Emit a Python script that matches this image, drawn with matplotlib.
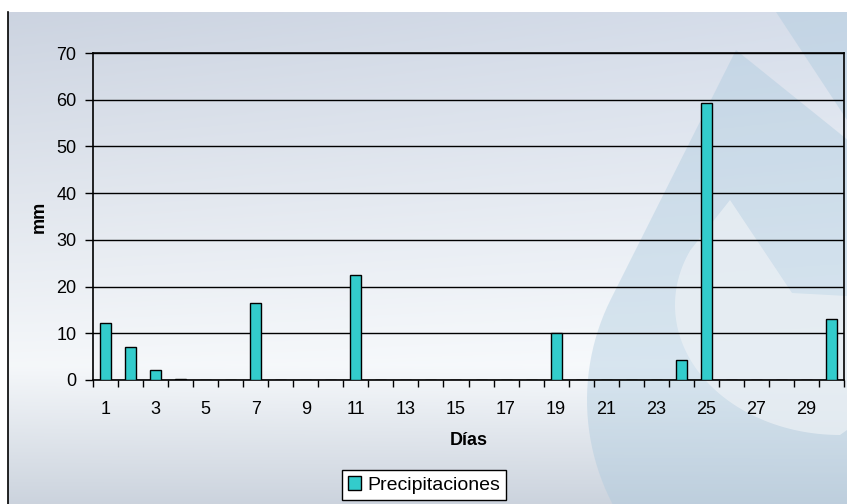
import matplotlib.pyplot as plt
import matplotlib.patches as mpatches
import numpy as np

# daily rainfall (mm), days 1..30
dias = list(range(1, 31))
precip = [12.3, 7.1, 2.1, 0.3, 0, 0, 16.4, 0, 0, 0,
          22.4, 0, 0, 0, 0, 0, 0, 0, 10.1, 0,
          0, 0, 0, 4.2, 59.4, 0, 0, 0, 0, 13.1]
y_ticks = [0, 10, 20, 30, 40, 50, 60, 70]

plt.rcParams['font.family'] = ['Liberation Sans', 'DejaVu Sans']

W, H = 847, 504
fig = plt.figure(figsize=(W / 100, H / 100), dpi=100)
fig.patch.set_facecolor('white')


def drop(apex, center, r, n=120):
    """Drop shape: apex point joined tangentially to a circle (pixel coords)."""
    ax_, ay_ = apex
    cx, cy = center
    dx, dy = ax_ - cx, ay_ - cy
    d = np.hypot(dx, dy)
    base = np.arctan2(dy, dx)
    half = np.arccos(r / d)
    t = np.linspace(base + half, base + 2 * np.pi - half, n)
    pts = np.column_stack([cx + r * np.cos(t), cy + r * np.sin(t)])
    return np.vstack([[apex], pts])


# background: gradient + watermark logo
bg = fig.add_axes([0, 0, 1, 1])
bg.set_xlim(0, W)
bg.set_ylim(H, 0)
bg.axis('off')
yy = np.linspace(0, 1, 200)
top = np.array([0.80, 0.83, 0.88])
mid = np.array([0.96, 0.97, 0.98])
bot = np.array([0.80, 0.83, 0.87])
col = np.where(yy[:, None] < 0.72,
               top + (mid - top) * (yy[:, None] / 0.72),
               mid + (bot - mid) * ((yy[:, None] - 0.72) / 0.28))
xx = np.linspace(0, 1, 300)
grad = col[:, None, :] * np.ones((1, 300, 1))
grad = np.clip(grad + 0.04 * xx[None, :, None] * (1 - yy[:, None, None]), 0, 1)
bg.imshow(grad, extent=[8, W, H, 12], aspect='auto', zorder=0)

wm = '#a9c8dd'
bg.add_patch(mpatches.Polygon(drop((736, 50), (812, 400), 225),
                              color=wm, alpha=0.4, lw=0, zorder=1))
bg.add_patch(mpatches.Polygon([(776, 12), (W, 12), (W, 120)],
                              color=wm, alpha=0.4, lw=0, zorder=1))
# inner lighter cut-out of the logo
t = np.radians(np.linspace(90, 205, 60))
arc = np.column_stack([840 + 165 * np.cos(t), 305 + 130 * np.sin(t)])
inner = np.vstack([[(730, 200), (792, 293), (W, 296), (W, 430)],
                   arc])
bg.add_patch(mpatches.Polygon(inner, color='#edf1f5', alpha=0.7,
                              lw=0, zorder=2))
bg.plot([8, 8], [12, H], color='black', lw=1.2, zorder=3)

# main chart
left, right, bottom_px, top_px = 93, 844, 380, 53
ax = fig.add_axes([left / W, (H - bottom_px) / H,
                   (right - left) / W, (bottom_px - top_px) / H])
ax.patch.set_alpha(0)

x = np.arange(len(dias))
ax.bar(x, precip, width=0.44, color='#33cccc', edgecolor='black',
       linewidth=1, zorder=3, label='Precipitaciones')

ax.set_xlim(-0.5, len(dias) - 0.5)
ax.set_ylim(0, 70)
ax.set_yticks(y_ticks)
ax.yaxis.grid(True, color='black', linewidth=1, zorder=1)
ax.set_axisbelow(True)

ax.set_xticks(x[::2])
ax.set_xticklabels([str(d) for d in dias[::2]])
ax.set_xticks(np.arange(-0.5, len(dias)), minor=True)
ax.tick_params(axis='x', which='major', length=0, pad=15, labelsize=13)
ax.tick_params(axis='x', which='minor', length=5, width=1, direction='out')
ax.tick_params(axis='y', length=6, width=1, direction='out', labelsize=13, pad=6)

for s in ax.spines.values():
    s.set_color('black')
    s.set_linewidth(1.2)

ax.set_ylabel('mm', fontsize=13, fontweight='bold')
ax.yaxis.set_label_coords(-0.06, 0.5)
ax.set_xlabel('Días', fontsize=13, fontweight='bold')
ax.xaxis.set_label_coords(0.5, -0.158)

fig.legend(loc='center', bbox_to_anchor=(424 / W, (H - 485) / H),
           frameon=True, fancybox=False, edgecolor='black', framealpha=1,
           fontsize=14, handlelength=0.7, handleheight=0.7,
           handletextpad=0.3, borderpad=0.3, borderaxespad=0)

fig.savefig('out.png', dpi=100)
